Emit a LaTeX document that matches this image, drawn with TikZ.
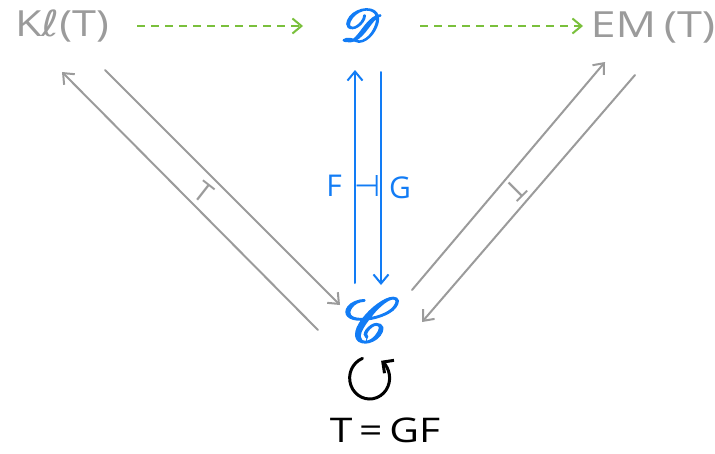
\documentclass[tikz,border=0pt]{standalone}
\usepackage{fontspec}
\setsansfont{Open Sans}
\newfontfamily\symfont{DejaVu Sans}
\usepackage{mathrsfs}
\usetikzlibrary{arrows.meta}
\definecolor{catgray}{RGB}{155,155,155}
\definecolor{catblue}{RGB}{18,124,245}
\definecolor{catgreen}{RGB}{122,192,60}
% fill and stroke the glyphs so the script letters get a heavier pen
\newcommand{\penstroke}[2]{\special{pdf:literal direct 2 Tr #1 w}#2\special{pdf:literal direct 0 Tr}}
\tikzset{
  barb/.style={-{Straight Barb[length=9pt,width=15pt,line width=2pt]}},
  grayarrow/.style={barb, draw=catgray, line width=2pt, line cap=round},
  bluearrow/.style={barb, draw=catblue, line width=2pt, line cap=round},
  greenarrow/.style={barb, draw=catgreen, line width=1.8pt, dash pattern=on 8pt off 6pt},
  cattext/.style={font=\sffamily\fontsize{36}{36}\selectfont, inner sep=0pt},
  scripttext/.style={text=catblue, inner sep=0pt},
  tlabel/.style={text=catgray, font=\sffamily\fontsize{28}{28}\selectfont, inner sep=0pt},
}
\begin{document}
\begin{tikzpicture}[x=1pt,y=-1pt]
\useasboundingbox (0,0) rectangle (715,453);

% objects
\node[cattext, text=catgray] (kl) at (62,26) {\scalebox{1.2}[1]{K{\symfont ℓ}(T)}};
\node[scripttext] (d) at (361,25) {\scalebox{4.7}[4.5]{\penstroke{0.35}{$\mathscr{D}$}}};
\node[cattext, text=catgray] (em) at (653,27) {\scalebox{1.25}[1]{EM\,(T)}};
\node[scripttext] (c) at (372,320) {\scalebox{6.6}[6.2]{\penstroke{0.25}{$\mathscr{C}$}}};

% comparison functors
\coordinate (klR) at (137,26);
\coordinate (dL) at (303,26);
\coordinate (dR) at (420,26);
\coordinate (emL) at (583,26);
\draw[greenarrow] (klR) -- (dL);
\draw[greenarrow] (dR) -- (emL);

% the adjunction F -| G
\coordinate (fup0) at (355,283);
\coordinate (fup1) at (355,70);
\coordinate (gdn0) at (381,72);
\coordinate (gdn1) at (381,285);
\draw[bluearrow] (fup0) -- (fup1);
\draw[bluearrow] (gdn0) -- (gdn1);
\node[text=catblue, font=\sffamily\fontsize{30}{30}\selectfont, inner sep=0pt] (flab) at (334,186) {F};
\node[text=catblue, font=\symfont\fontsize{30}{30}\selectfont, inner sep=0pt] (adj) at (368,186) {⊣};
\node[text=catblue, font=\sffamily\fontsize{30}{30}\selectfont, inner sep=0pt] (glab) at (400,188) {G};

% Kleisli adjunction
\coordinate (klA) at (105,70);
\coordinate (cA) at (340,305);
\coordinate (cB) at (318,330);
\coordinate (klB) at (62,72);
\draw[grayarrow] (klA) -- (cA);
\draw[grayarrow] (cB) -- (klB);
\node[tlabel, rotate=-38] (tl) at (204,192) {T};

% Eilenberg-Moore adjunction
\coordinate (cC) at (412,290);
\coordinate (emC) at (605,62);
\coordinate (emD) at (635,75);
\coordinate (cD) at (422,322);
\draw[grayarrow] (cC) -- (emC);
\draw[grayarrow] (emD) -- (cD);
\node[tlabel, rotate=225] (tr) at (516,190) {T};

% the monad on C
\draw[line width=3pt, line cap=round, -{Straight Barb[length=8pt,width=16pt,line width=3pt]}]
  (370,378) ++(249:21) arc[start angle=249, end angle=-55, x radius=20, y radius=21] coordinate (loopend);
\node[font=\sffamily\fontsize{34}{34}\selectfont, inner sep=0pt] (eq) at (385,430) {\scalebox{1.2}[1]{T\,=\,GF}};
\end{tikzpicture}
\end{document}
